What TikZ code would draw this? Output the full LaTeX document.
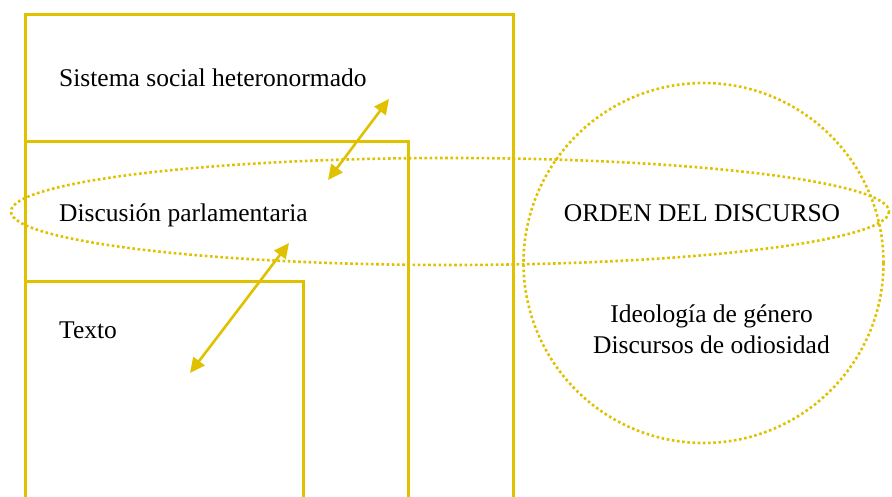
\documentclass[tikz,border=0pt]{standalone}
\usepackage{fontspec}
\setmainfont{Liberation Serif}
\usetikzlibrary{arrows.meta,shapes.geometric}
\definecolor{gold}{RGB}{224,193,0}
\tikzset{
  frame/.style={draw=gold, line width=3pt},
  dots/.style={draw=gold, line width=2.6pt, dash pattern=on 2.6pt off 2.6pt},
  link/.style={draw=gold, line width=2.6pt, {Triangle[length=15pt,width=14pt]}-{Triangle[length=15pt,width=14pt]}},
  lbl/.style={inner sep=0pt, anchor=base west, font=\fontsize{25.5}{31}\selectfont},
  clbl/.style={inner sep=0pt, anchor=base, font=\fontsize{25.5}{31}\selectfont, align=center}
}
\begin{document}
\begin{tikzpicture}[x=1pt,y=-1pt]
\useasboundingbox (0,0) rectangle (892,497);
\clip (0,0) rectangle (892,497);
% frames
\draw[frame] (25,520) -- (25,15) -- (513,15) -- (513,520);
\draw[frame] (25,142) -- (408,142) -- (408,520);
\draw[frame] (25,282) -- (303,282) -- (303,520);
% dotted ellipse and circle
\draw[dots] (450,211.5) ellipse [x radius=439, y radius=53.5];
\draw[dots] (703.5,263) circle [radius=180];
% labels
\node[lbl] (sis) at (59,87) {Sistema social heteronormado};
\node[lbl] (dis) at (59,222) {Discusión parlamentaria};
\node[lbl] (tex) at (59,338) {Texto};
\node[clbl] (ord) at (702,222) {ORDEN DEL DISCURSO};
\node[clbl] (ide) at (711.5,322) {Ideología de género};
\node[clbl] (odi) at (711.5,353) {Discursos de odiosidad};
% arrows
\coordinate (a1) at (389,99);
\coordinate (a2) at (328,180);
\coordinate (b1) at (289,243);
\coordinate (b2) at (190,373);
\draw[link] (a2) -- (a1);
\draw[link] (b2) -- (b1);
\end{tikzpicture}
\end{document}
